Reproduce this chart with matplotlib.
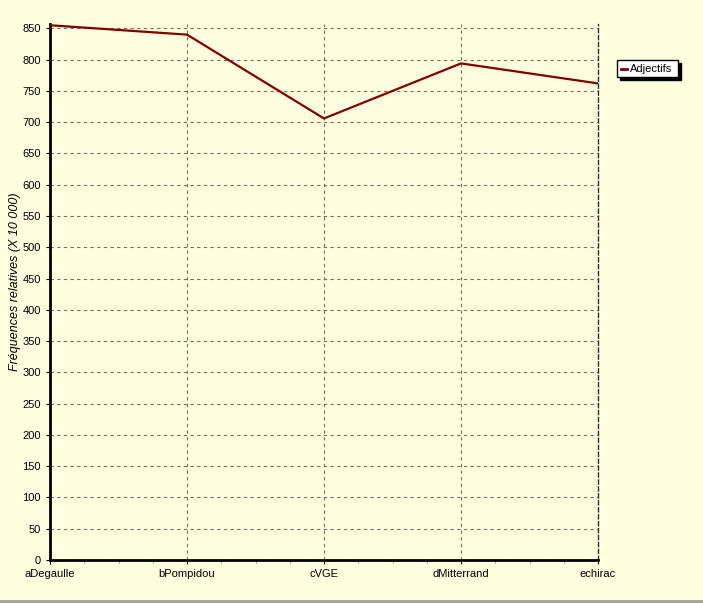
import matplotlib
matplotlib.use("Agg")
import matplotlib.pyplot as plt
from matplotlib.ticker import MultipleLocator, FixedLocator
from matplotlib.patches import Rectangle

categories = ["aDegaulle", "bPompidou", "cVGE", "dMitterrand", "echirac"]
adjectifs = [855, 840, 706, 794, 762]
series_name = "Adjectifs"

bg = "#FFFFE0"
fig = plt.figure(figsize=(7.03, 6.04), dpi=100, facecolor=bg)
ax = fig.add_axes([50/703, 44/604, 548/703, 536/604])
ax.set_facecolor(bg)

x = list(range(len(categories)))
ax.plot(x, adjectifs, color="#800000", lw=1.6, zorder=3)

ax.set_xlim(0, len(categories) - 1)
ax.set_ylim(0, 857)
ax.yaxis.set_major_locator(MultipleLocator(50))
ax.set_xticks(x)
ax.set_xticklabels(categories, fontsize=8, family="Liberation Sans")
ax.xaxis.set_minor_locator(FixedLocator([i * 0.25 for i in range(17)]))
ax.tick_params(axis="x", which="minor", length=2, color="#808080")
ax.tick_params(axis="both", which="major", length=3, labelsize=8)
for lab in ax.get_yticklabels():
    lab.set_family("Liberation Sans")

ax.grid(True, color="#707060", ls=(0, (3, 3)), lw=0.8)
ax.set_axisbelow(True)

ax.spines["top"].set_visible(False)
ax.spines["right"].set_color("#303030")
ax.spines["right"].set_linestyle((0, (3, 2)))
ax.spines["right"].set_linewidth(1)
ax.spines["left"].set_linewidth(2)
ax.spines["bottom"].set_linewidth(2)
ax.spines["bottom"].set_linestyle((0, (3, 1)))

ax.set_ylabel("Fréquences relatives (X 10 000)", fontsize=9, style="italic",
              family="Liberation Sans")
ax.yaxis.set_label_coords(-29/548, 0.519)

# legend with shadow
lx0, ly0, lw_, lh_ = 617/703, 1 - 77/604, 61/703, 17/604
fig.patches.append(Rectangle((lx0 + 3/703, ly0 - 3/604), lw_, lh_, transform=fig.transFigure,
                             facecolor="black", edgecolor="black", zorder=4))
fig.patches.append(Rectangle((lx0, ly0), lw_, lh_, transform=fig.transFigure,
                             facecolor="white", edgecolor="black", lw=1, zorder=5))
fig.lines.append(plt.Line2D([lx0 + 4/703, lx0 + 10/703], [ly0 + 8.5/604] * 2,
                            transform=fig.transFigure, color="#800000", lw=2, zorder=6))
fig.text(lx0 + 13/703, ly0 + 8.5/604, series_name, fontsize=8, va="center",
         family="Liberation Sans", zorder=6)

# bottom border
fig.lines.append(plt.Line2D([0, 1], [3/604, 3/604], transform=fig.transFigure,
                            color="#A0A0A0", lw=2))

fig.savefig("out.png", dpi=100, facecolor=bg)
